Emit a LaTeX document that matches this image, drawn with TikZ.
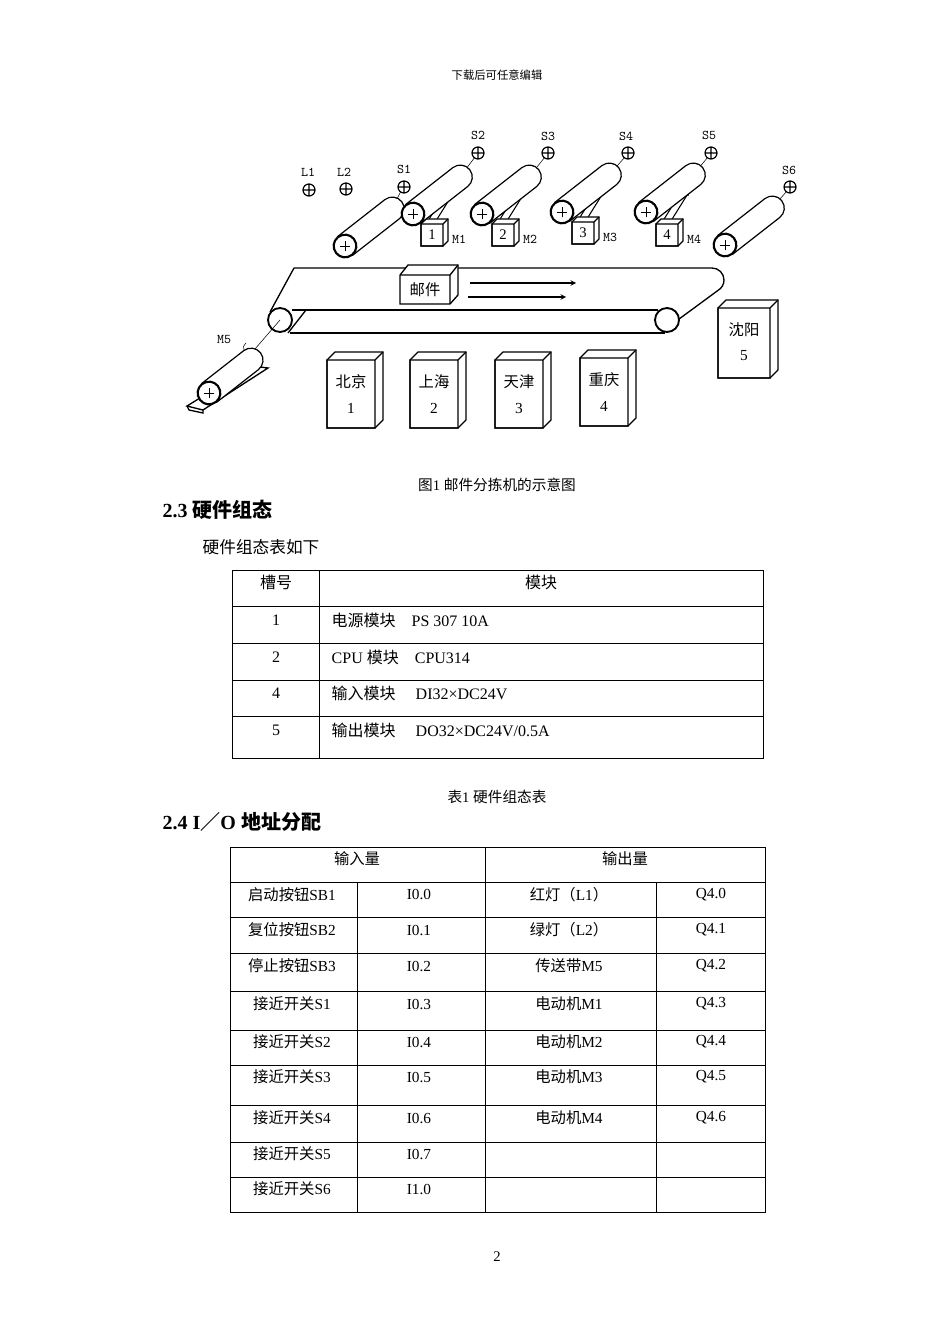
\documentclass[tikz,border=0pt]{standalone}
\usepackage{fontspec}
\setmainfont{Liberation Serif}
\newfontfamily\cjk{Noto Sans CJK SC}
\newcommand\mycyl[3]{\begin{scope}[shift={(#1,#2)},rotate=38]
\draw[fill=white,line width=0.9pt] (0pt,-9pt) -- (#3pt,-9pt) arc[start angle=-90,end angle=90,radius=9pt] -- (0pt,9pt);
\draw[line width=1.6pt,fill=white] (0pt,0pt) circle[radius=8.5pt];
\end{scope}
\draw (#1,#2)++(-4pt,0pt)--++(8pt,0pt) (#1,#2)++(0pt,-4pt)--++(0pt,8pt);}
\newcommand\mysens[2]{\draw[line width=0.9pt] (#1,#2) circle[radius=4.5pt] ++(-4.5pt,0pt)--++(9pt,0pt) (#1,#2)++(0pt,-4.5pt)--++(0pt,9pt);}
\newcommand\mybin[6]{% x1 y1 x2 y2 name text
\draw[line width=1pt,fill=white] (#1,#2)--++(8,-8)--(#3+8,#2-8)--(#3+8,#4-8)--(#3,#4)--(#1,#4)--cycle;
\draw[line width=1pt] (#1,#2) rectangle (#3,#4) (#3,#2)--(#3+8,#2-8);
\node[font=\cjk\fontsize{11.5}{13}\selectfont] at ({(#1+#3)/2},#2+22) {#5};
\node[font=\fontsize{11.5}{13}\selectfont] at ({(#1+#3)/2},#2+48) {#6};}
\newcommand\mypush[4]{% x y num label
\draw[line width=0.8pt] (#1+5,#2)--(#1+25,#2-32) (#1+13,#2)--(#1+33,#2-32);
\draw[line width=0.8pt] (#1+25,#2-32) arc[start angle=150,end angle=-30,radius=3pt];
\draw[line width=1pt,fill=white] (#1,#2)--++(5,-5)--++(22,0)--++(0,22)--++(-5,5)--++(-22,0)--cycle;
\draw[line width=1pt] (#1,#2) rectangle ++(22,22) (#1+22,#2)--++(5,-5);
\node[font=\fontsize{11}{12}\selectfont] at (#1+11,#2+11) {#3};
\node[font=\ttfamily\fontsize{10}{12}\selectfont] at (#1+38,#2+15) {#4};}
\tikzset{cell/.style={font=\fontsize{12}{14}\selectfont},
 lbl/.style={font=\ttfamily\fontsize{10}{12}\selectfont}}
\begin{document}
\begin{tikzpicture}[x=0.75pt,y=-0.75pt]
\useasboundingbox (0,0) rectangle (950,1344);
\node[font=\cjk\fontsize{8.5}{10}\selectfont] (hdr) at (497,75) {下载后可任意编辑};
% ---------- diagram
\node[lbl] (l1) at (308,172) {L1}; \mysens{309}{190}
\node[lbl] (l2) at (344,172) {L2}; \mysens{346}{189}
\node[lbl] (s1) at (404,169) {S1}; \mysens{404}{187}
\node[lbl] (s2) at (478,135) {S2}; \mysens{478}{153}
\node[lbl] (s3) at (548,136) {S3}; \mysens{548}{153}
\node[lbl] (s4) at (626,136) {S4}; \mysens{628}{153}
\node[lbl] (s5) at (709,135) {S5}; \mysens{711}{153}
\node[lbl] (s6) at (789,170) {S6}; \mysens{790}{187}
\draw (392,209)--(401,191) (460,177)--(475,157) (529,177)--(545,157) (609,175)--(625,157) (693,175)--(708,157) (772,208)--(787,191);
\mycyl{345}{246}{45}
\mypush{421}{224}{1}{M1}
\mycyl{413}{214}{45}
\mypush{492}{224}{2}{M2}
\mycyl{482}{214}{45}
\mypush{572}{222}{3}{M3}
\mycyl{562}{212}{45}
\mypush{656}{224}{4}{M4}
\mycyl{646}{212}{45}
\mycyl{725}{245}{45}
% conveyor
\draw[line width=1pt] (294,268)--(712,268) arc[start angle=90,end angle=-60,radius=9pt]--(675,322);
\draw[line width=1pt] (294,268)--(270,312);
\draw[line width=1pt] (292,310)--(658,310) (290,333)--(665,333);
\draw[line width=1pt] (306,310)--(288,333);
\draw[line width=1.4pt,fill=white] (280,320) circle[radius=9pt];
\draw[line width=1.4pt,fill=white] (667,320) circle[radius=9pt];
% parcel
\draw[line width=1pt,fill=white] (400,275)--(408,265)--(458,265)--(458,295)--(450,304)--(400,304)--cycle;
\draw[line width=1pt] (400,275)--(450,275)--(450,304) (450,275)--(458,265);
\node[font=\cjk\fontsize{11.5}{13}\selectfont] (mail) at (425,290) {邮件};
\draw[-stealth,line width=0.8pt] (470,283)--(576,283);
\draw[-stealth,line width=0.8pt] (468,297)--(566,297);
% motor M5
\node[lbl] (m5) at (224,340) {M5};
\draw (280,320)--(255,349);
\draw (246,343) arc[start angle=120,end angle=240,radius=4pt];
\draw[line width=1pt,fill=white] (187,406)--(252,366)--(268,368)--(203,410)--cycle;
\draw[line width=1pt] (187,406)--(189,410)--(203,413)--(203,410);
\mycyl{209}{393}{40}
% bins
\mybin{327}{360}{375}{428}{北京}{1}
\mybin{410}{360}{458}{428}{上海}{2}
\mybin{495}{360}{543}{428}{天津}{3}
\mybin{580}{358}{628}{426}{重庆}{4}
\mybin{718}{308}{770}{378}{沈阳}{5}
\node[font=\fontsize{11}{13}\selectfont] (cap1) at (497,485) {{\cjk 图}1 {\cjk 邮件分拣机的示意图}};
% ---------- section 2.3
\node[anchor=west,font=\bfseries\fontsize{15}{18}\selectfont] (sec23) at (158,510) {2.3 {\cjk\bfseries 硬件组态}};
\node[anchor=west,font=\cjk\fontsize{12.5}{15}\selectfont] (intro) at (198,547) {硬件组态表如下};
\draw[line width=0.7pt] (232,570) rectangle (763,758);
\foreach \y in {606,643,680,716} \draw[line width=0.7pt] (232,\y)--(763,\y);
\draw[line width=0.7pt] (319,570)--(319,758);
\node[cell] (t1h1) at (276,582) {{\cjk 槽号}};
\node[cell] (t1h2) at (541,582) {{\cjk 模块}};
\node[cell] (t1a) at (276,620) {1};
\node[cell] (t1b) at (276,657) {2};
\node[cell] (t1c) at (276,693) {4};
\node[cell] (t1d) at (276,730) {5};
\node[cell,anchor=west] (t1e) at (327,620) {{\cjk 电源模块}\quad PS 307 10A};
\node[cell,anchor=west] (t1f) at (327,657) {CPU {\cjk 模块}\quad CPU314};
\node[cell,anchor=west] (t1g) at (327,693) {{\cjk 输入模块}\quad\ DI32×DC24V};
\node[cell,anchor=west] (t1k) at (327,730) {{\cjk 输出模块}\quad\ DO32×DC24V/0.5A};
\node[font=\fontsize{11}{13}\selectfont] (cap2) at (497,797) {{\cjk 表}1 {\cjk 硬件组态表}};
% ---------- section 2.4
\node[anchor=west,font=\bfseries\fontsize{15}{18}\selectfont] (sec24) at (158,822) {2.4 I{\cjk\bfseries ／}O {\cjk\bfseries 地址分配}};
\draw[line width=0.7pt] (230,847) rectangle (765,1212);
\foreach \y in {882,917,953,991,1030,1065,1105,1142,1177} \draw[line width=0.7pt] (230,\y)--(765,\y);
\draw[line width=0.7pt] (485,847)--(485,1212) (357,882)--(357,1212) (656,882)--(656,1212);
\tikzset{c2/.style={font=\fontsize{11.5}{14}\selectfont}}
\node[c2] (ih) at (357,859) {{\cjk 输入量}};
\node[c2] (oh) at (625,859) {{\cjk 输出量}};
\foreach \a/\b/\c/\d/\y in {启动按钮/SB1/I0.0/0/895,复位按钮/SB2/I0.1/1/930,停止按钮/SB3/I0.2/2/966,接近开关/S1/I0.3/3/1004,接近开关/S2/I0.4/4/1042,接近开关/S3/I0.5/5/1077,接近开关/S4/I0.6/6/1118,接近开关/S5/I0.7/7/1154,接近开关/S6/I1.0/8/1189}{
 \node[c2] (in\d) at (292,\y) {{\cjk \a}\b};
 \node[c2] (ad\d) at (419,\y) {\c};}
\node[c2] (out0) at (569,895) {{\cjk 红灯（}L1{\cjk ）}};
\node[c2] (out1) at (569,930) {{\cjk 绿灯（}L2{\cjk ）}};
\foreach \a/\b/\c/\d/\y in {传送带/M5/Q4.2/2/966,电动机/M1/Q4.3/3/1004,电动机/M2/Q4.4/4/1042,电动机/M3/Q4.5/5/1077,电动机/M4/Q4.6/6/1118}{
 \node[c2] (out\d) at (569,\y) {{\cjk \a}\b};}
\foreach \c/\d/\y in {Q4.0/0/895,Q4.1/1/930,Q4.2/2/966,Q4.3/3/1004,Q4.4/4/1042,Q4.5/5/1077,Q4.6/6/1118}
 \node[c2] (oa\d) at (711,\y) {\c};
\node[font=\fontsize{11}{13}\selectfont] (pg) at (497,1257) {2};
\end{tikzpicture}
\end{document}
